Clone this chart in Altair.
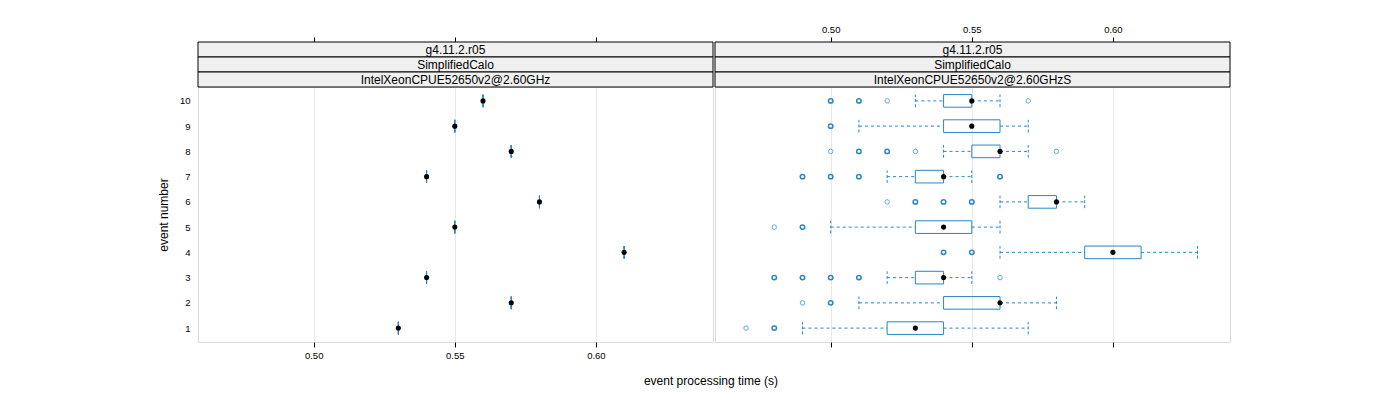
import altair as alt
import pandas as pd

FONT = "Liberation Sans"
BLUE = "#2a86c4"

# ---------------- data ----------------
events = [1, 2, 3, 4, 5, 6, 7, 8, 9, 10]
tick_values = [0.50, 0.55, 0.60]

strip_left = ["g4.11.2.r05", "SimplifiedCalo", "IntelXeonCPUE52650v2@2.60GHz"]
strip_right = ["g4.11.2.r05", "SimplifiedCalo", "IntelXeonCPUE52650v2@2.60GHzS"]

# left panel: one measurement per event
left_values = [0.53, 0.57, 0.54, 0.61, 0.55, 0.58, 0.54, 0.57, 0.55, 0.56]

# right panel: box statistics per event
r_wlo = [0.49, 0.51, 0.52, 0.56, 0.50, 0.56, 0.52, 0.54, 0.51, 0.53]
r_q1 = [0.52, 0.54, 0.53, 0.59, 0.53, 0.57, 0.53, 0.55, 0.54, 0.54]
r_med = [0.53, 0.56, 0.54, 0.60, 0.54, 0.58, 0.54, 0.56, 0.55, 0.55]
r_q3 = [0.54, 0.56, 0.54, 0.61, 0.55, 0.58, 0.54, 0.56, 0.56, 0.55]
r_whi = [0.57, 0.58, 0.55, 0.63, 0.56, 0.59, 0.55, 0.57, 0.57, 0.56]

# right panel outliers (weight 2 = several coincident points)
out_event = [1, 1, 2, 2, 3, 3, 3, 3, 3, 4, 4, 5, 5, 6, 6, 6, 6,
             7, 7, 7, 7, 8, 8, 8, 8, 8, 9, 10, 10, 10, 10]
out_value = [0.47, 0.48, 0.49, 0.50, 0.48, 0.49, 0.50, 0.51, 0.56, 0.54, 0.55,
             0.48, 0.49, 0.52, 0.53, 0.54, 0.55, 0.49, 0.50, 0.51, 0.56,
             0.50, 0.51, 0.52, 0.53, 0.58, 0.50, 0.50, 0.51, 0.52, 0.57]
out_weight = [1, 2, 1, 2, 2, 2, 2, 2, 1, 2, 2, 1, 2, 1, 2, 2, 2,
              2, 2, 2, 2, 1, 2, 2, 1, 1, 2, 2, 2, 1, 1]

W, H = 515, 255
XDOM = [0.459, 0.6415]
YDOM = [0.45, 10.55]
STRIP_H = 15

left_df = pd.DataFrame({"event": events, "wlo": left_values, "q1": left_values,
                        "med": left_values, "q3": left_values, "whi": left_values})
right_df = pd.DataFrame({"event": events, "wlo": r_wlo, "q1": r_q1, "med": r_med,
                         "q3": r_q3, "whi": r_whi})
left_out = pd.DataFrame({"event": [], "value": [], "w": []})
right_out = pd.DataFrame({"event": out_event, "value": out_value, "w": out_weight})

xs = alt.Scale(domain=XDOM, nice=False, zero=False)
ys = alt.Scale(domain=YDOM, nice=False, zero=False)


def make_panel(box_df, out_df, strips, bottom_labels, top_labels, show_y):
    bottom_axis = alt.Axis(orient="bottom", values=tick_values, format=".2f",
                           tickSize=5, tickColor="black", domain=False,
                           grid=True, gridColor="#e8e8e8", title=None,
                           labelOpacity=1 if bottom_labels else 0,
                           labelFontSize=9.5, labelPadding=3, labelColor="black",
                           labelFont=FONT)
    top_axis = alt.Axis(orient="top", values=tick_values, format=".2f",
                        tickSize=5, tickColor="black", domain=False, grid=False,
                        title=None, offset=3 * STRIP_H,
                        labelOpacity=1 if top_labels else 0,
                        labelFontSize=9.5, labelPadding=3, labelColor="black",
                        labelFont=FONT)
    if show_y:
        y_axis = alt.Axis(values=events, format="d", ticks=False, domain=False,
                          grid=False, title="event number", labelFontSize=9.5,
                          labelPadding=8, labelColor="black", labelFont=FONT,
                          titleFont=FONT, titleFontSize=12,
                          titleFontWeight="normal", titleColor="black",
                          titlePadding=9)
    else:
        y_axis = None

    base = alt.Chart(box_df).transform_calculate(
        ylo="datum.event - 0.25", yhi="datum.event + 0.25")

    wl = base.mark_rule(color=BLUE, strokeDash=[3, 3], strokeWidth=1).encode(
        x=alt.X("wlo:Q", scale=xs, axis=bottom_axis), x2="q1:Q",
        y=alt.Y("event:Q", scale=ys, axis=y_axis))
    wh = base.mark_rule(color=BLUE, strokeDash=[3, 3], strokeWidth=1).encode(
        x=alt.X("q3:Q", scale=xs, axis=None), x2="whi:Q",
        y=alt.Y("event:Q", scale=ys, axis=None))
    sl = base.mark_rule(color=BLUE, strokeDash=[3, 2], strokeWidth=1).encode(
        x=alt.X("wlo:Q", scale=xs, axis=None),
        y=alt.Y("ylo:Q", scale=ys, axis=None), y2="yhi:Q")
    sh = base.mark_rule(color=BLUE, strokeDash=[3, 2], strokeWidth=1).encode(
        x=alt.X("whi:Q", scale=xs, axis=None),
        y=alt.Y("ylo:Q", scale=ys, axis=None), y2="yhi:Q")
    box = base.mark_rect(fillOpacity=0, stroke=BLUE, strokeWidth=1).encode(
        x=alt.X("q1:Q", scale=xs, axis=None), x2="q3:Q",
        y=alt.Y("ylo:Q", scale=ys, axis=None), y2="yhi:Q")
    med = base.mark_point(filled=True, color="black", size=26, opacity=1).encode(
        x=alt.X("med:Q", scale=xs, axis=top_axis),
        y=alt.Y("event:Q", scale=ys, axis=None))
    layers = [wl, wh, sl, sh, box]
    if len(out_df):
        outl = alt.Chart(out_df).mark_point(shape="circle", filled=False,
                                            color=BLUE, size=20).encode(
            x=alt.X("value:Q", scale=xs, axis=None),
            y=alt.Y("event:Q", scale=ys, axis=None),
            opacity=alt.Opacity("w:O", scale=alt.Scale(domain=[1, 2], range=[0.7, 1.0]),
                                legend=None),
            strokeWidth=alt.StrokeWidth("w:O", scale=alt.Scale(domain=[1, 2], range=[1.0, 1.5]),
                                        legend=None))
        layers.append(outl)
    layers.append(med)

    one = pd.DataFrame({"k": [0]})
    for i, s in enumerate(strips):
        top = -(len(strips) - i) * STRIP_H
        layers.append(alt.Chart(one).mark_rect(fill="#f0f0f0", stroke="black",
                                               strokeWidth=1).encode(
            x=alt.value(0), x2=alt.value(W), y=alt.value(top),
            y2=alt.value(top + STRIP_H)))
        layers.append(alt.Chart(one).mark_text(font=FONT, fontSize=12, color="black",
                                               align="center", baseline="middle").encode(
            x=alt.value(W / 2), y=alt.value(top + STRIP_H / 2 + 0.5),
            text=alt.value(s)))

    return alt.layer(*layers).resolve_axis(x="independent", y="independent").properties(
        width=W, height=H)


left = make_panel(left_df, left_out, strip_left, True, False, True)
right = make_panel(right_df, right_out, strip_right, False, True, False)

chart = alt.hconcat(left, right, spacing=0).properties(
    title=alt.TitleParams("event processing time (s)", orient="bottom",
                          anchor="middle", font=FONT, fontSize=12,
                          fontWeight="normal", color="black", dx=17, offset=16),
    padding={"left": 148, "top": 15, "right": 5, "bottom": 5},
).configure_view(stroke="black", strokeWidth=1).configure(background="white")

chart.save("out.html", embed_options={"renderer": "svg", "actions": False})
